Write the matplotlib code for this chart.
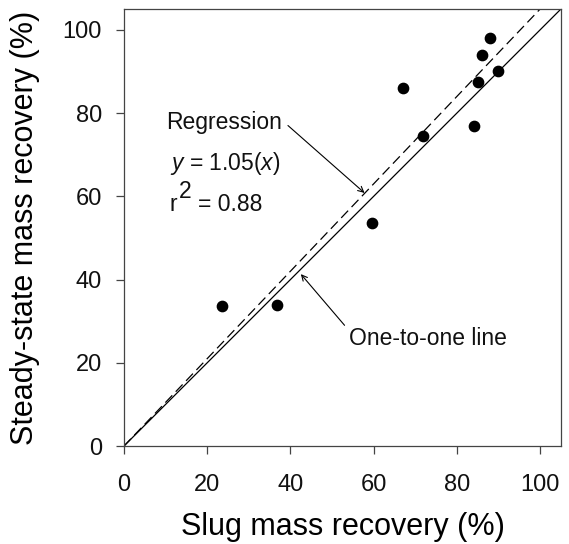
import matplotlib
matplotlib.use('Agg')
import matplotlib.pyplot as plt
import numpy as np

# Slug vs steady-state mass recovery (%)
slug = [23.6, 36.7, 59.7, 67.1, 71.9, 84.1, 85.0, 86.0, 87.9, 89.8]
steady = [33.6, 33.8, 53.5, 86.0, 74.5, 76.8, 87.4, 94.0, 98.0, 90.1]
slope = 1.05
ticks = [0, 20, 40, 60, 80, 100]

plt.rcParams['font.family'] = ['Liberation Sans', 'DejaVu Sans']
plt.rcParams['mathtext.fontset'] = 'custom'
plt.rcParams['mathtext.rm'] = 'Liberation Sans'
plt.rcParams['mathtext.it'] = 'Liberation Sans:italic'
plt.rcParams['text.color'] = '#111111'

fig = plt.figure(figsize=(5.69, 5.44), dpi=100)
ax = fig.add_axes([0.2179, 0.1801, 0.768, 0.8034])

# one-to-one line and regression line
ax.plot([0, 105], [0, 105], color='black', lw=0.9)
xr = np.array([0, 105 / slope])
ax.plot(xr, slope * xr, color='black', lw=0.9, ls=(0, (8, 4)))

ax.scatter(slug, steady, s=55, color='black', zorder=3)

ax.set_xlim(0, 105)
ax.set_ylim(0, 105)
ax.set_xticks(ticks)
ax.set_yticks(ticks)
ax.tick_params(direction='out', length=6, width=0.9, labelsize=17,
               labelcolor='#111111', color='#444444')
ax.tick_params(axis='x', pad=14)
ax.tick_params(axis='y', pad=10)
for s in ax.spines.values():
    s.set_linewidth(0.9)
    s.set_color('#444444')

ax.set_xlabel('Slug mass recovery (%)', fontsize=22, labelpad=12)
ax.set_ylabel('Steady-state mass recovery (%)', fontsize=22, labelpad=16)

arrow = dict(arrowstyle='->', color='black', lw=0.8, shrinkA=0, shrinkB=0)
ax.text(10.1, 77.8, 'Regression', fontsize=16.5, va='center', ha='left')
ax.annotate('', xy=(57.8, 60.8), xytext=(39.4, 77.0), arrowprops=arrow)
ax.text(11.0, 67.9, '$y$ = 1.05($x$)', fontsize=16.5, va='center', ha='left')
# r squared with a full-size raised 2, as in the original
ax.text(11.0, 58.0, 'r', fontsize=16.5, va='center', ha='left')
ax.text(13.3, 61.2, '2', fontsize=16.5, va='center', ha='left')
ax.text(17.8, 58.0, '= 0.88', fontsize=16.5, va='center', ha='left')
ax.text(54.0, 25.8, 'One-to-one line', fontsize=16.5, va='center', ha='left')
ax.annotate('', xy=(42.5, 41.3), xytext=(53.0, 29.0), arrowprops=arrow)

fig.savefig('out.png', dpi=100)
